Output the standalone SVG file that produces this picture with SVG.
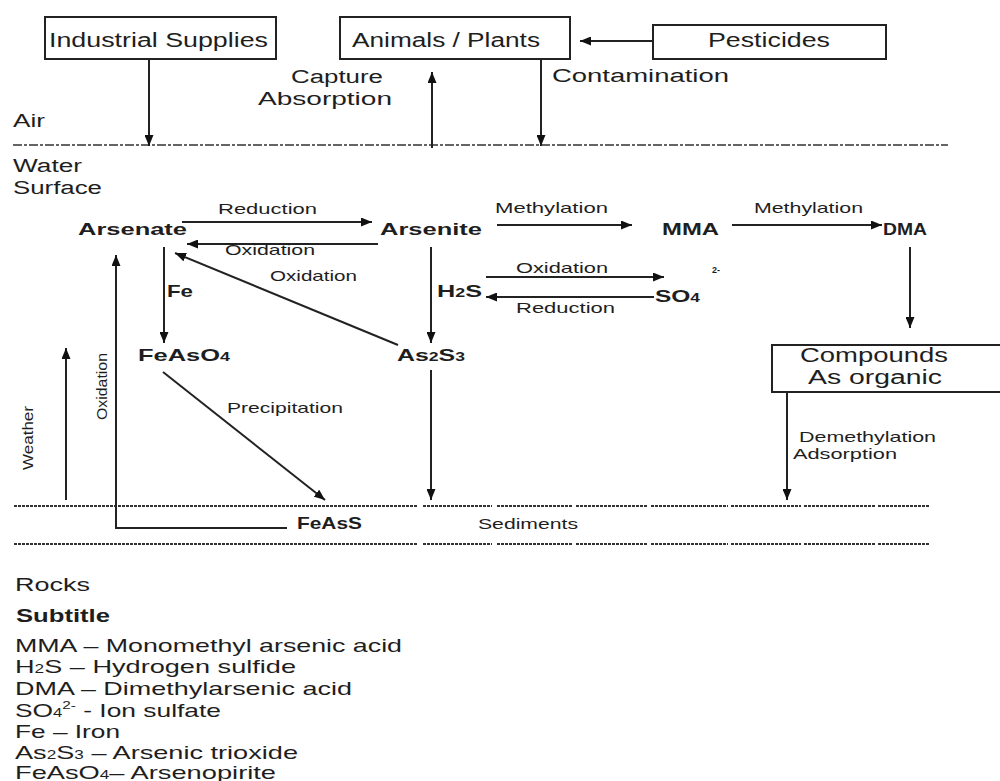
<svg xmlns="http://www.w3.org/2000/svg" width="1000" height="781" viewBox="0 0 1000 781">
<style>
text{font-family:"Liberation Sans",Arial,sans-serif;fill:#1e1e1e}
.box{fill:#fff;stroke:#222;stroke-width:2}
.bt{font-size:20px}
.lbl{font-size:18px}
.chem{font-size:17px;font-weight:bold}
.rx{font-size:15px}
.leg{font-size:19px}
.con path{fill:none;stroke:#222;stroke-width:2}
.arr{marker-end:url(#ah)}
.air{stroke:#333;stroke-width:1.6;stroke-dasharray:9,2,3,2}
.sed{stroke:#333;stroke-width:2.2;stroke-dasharray:3,1}
</style>
<defs>
<marker id="ah" markerUnits="userSpaceOnUse" markerWidth="11" markerHeight="9" refX="11" refY="4.5" orient="auto">
<path d="M0,0 L11,4.5 L0,9 z" fill="#111"/>
</marker>
</defs>
<rect width="1000" height="781" fill="#fff"/>

<!-- layer lines -->
<g id="layers">
<line class="air" x1="13" y1="145" x2="948" y2="145"/>
<g class="sed">
<line x1="14" y1="506" x2="417" y2="506"/><line x1="423" y1="506" x2="492" y2="506"/><line x1="497" y1="506" x2="572" y2="506"/><line x1="576" y1="506" x2="647" y2="506"/><line x1="651" y1="506" x2="728" y2="506"/><line x1="731" y1="506" x2="801" y2="506"/><line x1="804" y1="506" x2="875" y2="506"/><line x1="878" y1="506" x2="930" y2="506"/>
<line x1="14" y1="544" x2="417" y2="544"/><line x1="423" y1="544" x2="492" y2="544"/><line x1="497" y1="544" x2="572" y2="544"/><line x1="576" y1="544" x2="647" y2="544"/><line x1="651" y1="544" x2="728" y2="544"/><line x1="731" y1="544" x2="801" y2="544"/><line x1="804" y1="544" x2="875" y2="544"/><line x1="878" y1="544" x2="930" y2="544"/>
</g>
</g>

<!-- connectors -->
<g id="connectors" class="con">
<path class="arr" d="M149,59 V146"/>
<path class="arr" d="M432,148 V72"/>
<path class="arr" d="M541,59 V146"/>
<path class="arr" d="M653,41 H580"/>
<path class="arr" d="M182,222 H372"/>
<path class="arr" d="M378,244 H187"/>
<path class="arr" d="M164,247 V343"/>
<path class="arr" d="M398,345 L175,253"/>
<path class="arr" d="M431,247 V343"/>
<path class="arr" d="M497,225 H632"/>
<path class="arr" d="M732,225 H882"/>
<path class="arr" d="M486,277 H664"/>
<path class="arr" d="M654,297 H486"/>
<path class="arr" d="M910,247 V328"/>
<path class="arr" d="M66,500 V348"/>
<path class="arr" d="M287,528 H116 V255"/>
<path class="arr" d="M163,372 L325,500"/>
<path class="arr" d="M431,370 V500"/>
<path class="arr" d="M787,392 V500"/>
</g>

<!-- boxes -->
<g id="industrial">
<rect class="box" x="45" y="17" width="231" height="42"/>
<text class="bt" x="49" y="47" textLength="219" lengthAdjust="spacingAndGlyphs">Industrial Supplies</text>
</g>
<g id="animals">
<rect class="box" x="340" y="17" width="230" height="42"/>
<text class="bt" x="352" y="47" textLength="188" lengthAdjust="spacingAndGlyphs">Animals / Plants</text>
</g>
<g id="pesticides">
<rect class="box" x="653" y="25" width="233" height="34"/>
<text class="bt" x="708" y="47" textLength="122" lengthAdjust="spacingAndGlyphs">Pesticides</text>
</g>
<g id="compounds">
<rect class="box" x="772" y="345" width="240" height="47"/>
<text class="bt" x="800" y="362" textLength="148" lengthAdjust="spacingAndGlyphs">Compounds</text>
<text class="bt" x="808" y="384" textLength="134" lengthAdjust="spacingAndGlyphs">As organic</text>
</g>

<!-- labels -->
<g id="labels">
<text class="lbl" x="291" y="83" textLength="92" lengthAdjust="spacingAndGlyphs">Capture</text>
<text class="lbl" x="258" y="105" textLength="134" lengthAdjust="spacingAndGlyphs">Absorption</text>
<text class="lbl" x="552" y="82" textLength="177" lengthAdjust="spacingAndGlyphs">Contamination</text>
<text class="lbl" x="13" y="127" textLength="32" lengthAdjust="spacingAndGlyphs">Air</text>
<text class="lbl" x="13" y="172" textLength="69" lengthAdjust="spacingAndGlyphs">Water</text>
<text class="lbl" x="13" y="194" textLength="89" lengthAdjust="spacingAndGlyphs">Surface</text>

<text class="rx" x="218" y="214" textLength="99" lengthAdjust="spacingAndGlyphs">Reduction</text>
<text class="rx" x="225" y="255" textLength="90" lengthAdjust="spacingAndGlyphs">Oxidation</text>
<text class="rx" x="270" y="281" textLength="87" lengthAdjust="spacingAndGlyphs">Oxidation</text>
<text class="rx" x="495" y="213" textLength="113" lengthAdjust="spacingAndGlyphs">Methylation</text>
<text class="rx" x="754" y="213" textLength="109" lengthAdjust="spacingAndGlyphs">Methylation</text>
<text class="rx" x="516" y="273" textLength="92" lengthAdjust="spacingAndGlyphs">Oxidation</text>
<text class="rx" x="516" y="313" textLength="99" lengthAdjust="spacingAndGlyphs">Reduction</text>
<text class="rx" x="227" y="413" textLength="116" lengthAdjust="spacingAndGlyphs">Precipitation</text>
<text class="rx" x="799" y="442" textLength="137" lengthAdjust="spacingAndGlyphs">Demethylation</text>
<text class="rx" x="793" y="459" textLength="104" lengthAdjust="spacingAndGlyphs">Adsorption</text>
<text class="rx" x="478" y="529" textLength="100" lengthAdjust="spacingAndGlyphs">Sediments</text>
<text class="rx" transform="translate(33,470) rotate(-90)" textLength="64" lengthAdjust="spacingAndGlyphs">Weather</text>
<text class="rx" transform="translate(107,420) rotate(-90)" textLength="67" lengthAdjust="spacingAndGlyphs">Oxidation</text>
</g>

<!-- chemical nodes -->
<g id="arsenate"><text class="chem" x="78" y="235" textLength="109" lengthAdjust="spacingAndGlyphs">Arsenate</text></g>
<g id="arsenite"><text class="chem" x="380" y="235" textLength="102" lengthAdjust="spacingAndGlyphs">Arsenite</text></g>
<g id="mma"><text class="chem" x="662" y="235" textLength="57" lengthAdjust="spacingAndGlyphs">MMA</text></g>
<g id="dma"><text class="chem" x="883" y="235" textLength="44" lengthAdjust="spacingAndGlyphs">DMA</text></g>
<g id="fe"><text class="chem" x="167" y="297" textLength="26" lengthAdjust="spacingAndGlyphs">Fe</text></g>
<g id="h2s"><text class="chem" x="437" y="297" textLength="45" lengthAdjust="spacingAndGlyphs">H<tspan font-size="12">2</tspan>S</text></g>
<g id="so4"><text class="chem" x="655" y="302" textLength="45" lengthAdjust="spacingAndGlyphs">SO<tspan font-size="12">4</tspan></text><text x="712" y="273" font-size="9" font-weight="bold">2-</text></g>
<g id="feaso4"><text class="chem" x="138" y="361" textLength="92" lengthAdjust="spacingAndGlyphs">FeAsO<tspan font-size="12">4</tspan></text></g>
<g id="as2s3"><text class="chem" x="397" y="361" textLength="68" lengthAdjust="spacingAndGlyphs">As<tspan font-size="12">2</tspan>S<tspan font-size="12">3</tspan></text></g>
<g id="feass"><text class="chem" x="297" y="529" textLength="65" lengthAdjust="spacingAndGlyphs">FeAsS</text></g>

<!-- legend -->
<g id="legend">
<text class="leg" x="15" y="591" textLength="75" lengthAdjust="spacingAndGlyphs">Rocks</text>
<text class="leg" x="16" y="622" font-weight="bold" textLength="94" lengthAdjust="spacingAndGlyphs">Subtitle</text>
<text class="leg" x="15" y="652" textLength="387" lengthAdjust="spacingAndGlyphs">MMA – Monomethyl arsenic acid</text>
<text class="leg" x="15" y="673" textLength="281" lengthAdjust="spacingAndGlyphs">H<tspan font-size="12">2</tspan>S – Hydrogen sulfide</text>
<text class="leg" x="15" y="695" textLength="337" lengthAdjust="spacingAndGlyphs">DMA – Dimethylarsenic acid</text>
<text class="leg" x="15" y="717" textLength="206" lengthAdjust="spacingAndGlyphs">SO<tspan font-size="12">4</tspan><tspan font-size="11" dy="-8">2-</tspan><tspan dy="8"> - Ion sulfate</tspan></text>
<text class="leg" x="15" y="738" textLength="105" lengthAdjust="spacingAndGlyphs">Fe – Iron</text>
<text class="leg" x="15" y="759" textLength="283" lengthAdjust="spacingAndGlyphs">As<tspan font-size="12">2</tspan>S<tspan font-size="12">3</tspan> – Arsenic trioxide</text>
<text class="leg" x="15" y="779" textLength="261" lengthAdjust="spacingAndGlyphs">FeAsO<tspan font-size="12">4</tspan>– Arsenopirite</text>
</g>
</svg>
